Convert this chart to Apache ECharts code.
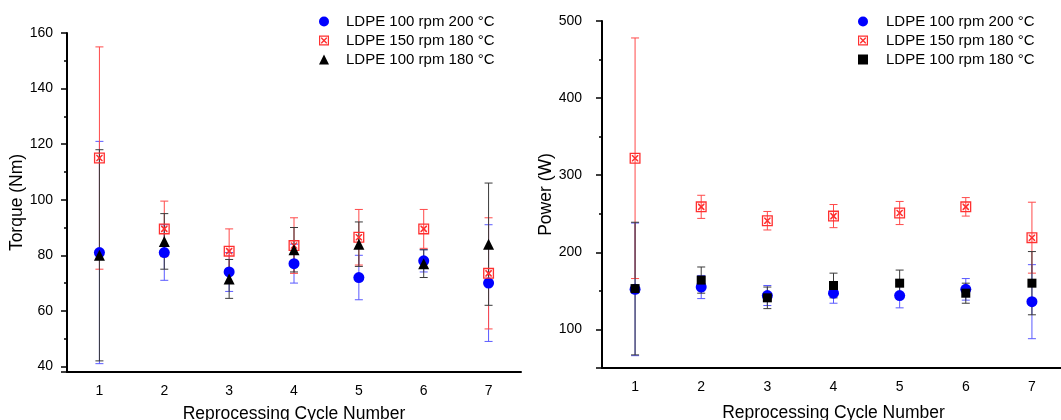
<!DOCTYPE html>
<html>
<head>
<meta charset="utf-8">
<script src="https://cdn.jsdelivr.net/npm/echarts@6/dist/echarts.min.js"></script>
<style>
  body { margin: 0; background: #fff; }
  #chart { width: 1061px; height: 420px; }
</style>
</head>
<body>
<div id="chart"></div>
<script>
// reprocessing cycles
const cycles = ['1', '2', '3', '4', '5', '6', '7'];
const names = ['LDPE 100 rpm 200 °C', 'LDPE 150 rpm 180 °C', 'LDPE 100 rpm 180 °C'];

// torque (Nm), mean and +/- error
const torque200 = [81, 81, 74, 77, 72, 78, 70];
const torque200Err = [40, 10, 7, 7, 8, 4, 21];
const torque150 = [115, 89.5, 81.5, 83.5, 86.5, 89.5, 73.5];
const torque150Err = [40, 10, 8, 10, 10, 7, 20];
const torque180 = [80, 85, 71.5, 82, 84, 77, 84];
const torque180Err = [38, 10, 7, 8, 8, 5, 22];

// power (W), mean and +/- error
const power200 = [152, 155, 144, 147, 144, 152, 136];
const power200Err = [86, 15, 13, 13, 16, 14, 48];
const power150 = [322, 259, 241, 247, 251, 259, 219];
const power150Err = [156, 15, 12, 15, 15, 12, 46];
const power180 = [153, 164, 141, 157, 160, 147, 160];
const power180Err = [86, 17, 14, 16, 17, 13, 41];

// hollow square with a cross
const crossBox = 'path://M0 0H10V10H0Z M1.2 1.2V8.8H8.8V1.2Z M2 2L3 2L8 7L8 8L7 8L2 3Z M8 2L8 3L3 8L2 8L2 7L7 2Z';

function errRows(vals, errs) {
  return vals.map((v, i) => [i, v - errs[i], v + errs[i]]);
}

function errSeries(vals, errs, color, idx) {
  return {
    type: 'custom',
    xAxisIndex: idx,
    yAxisIndex: idx,
    silent: true,
    data: errRows(vals, errs),
    encode: { x: 0, y: [1, 2] },
    renderItem: function (params, api) {
      const lo = api.coord([api.value(0), api.value(1)]);
      const hi = api.coord([api.value(0), api.value(2)]);
      const w = 4;
      const st = { stroke: color, lineWidth: 1 };
      return {
        type: 'group',
        children: [
          { type: 'line', shape: { x1: lo[0], y1: lo[1], x2: hi[0], y2: hi[1] }, style: st },
          { type: 'line', shape: { x1: lo[0] - w, y1: lo[1], x2: lo[0] + w, y2: lo[1] }, style: st },
          { type: 'line', shape: { x1: hi[0] - w, y1: hi[1], x2: hi[0] + w, y2: hi[1] }, style: st }
        ]
      };
    }
  };
}

function dots(name, vals, symbol, size, color, idx) {
  return {
    name: name,
    type: 'scatter',
    xAxisIndex: idx,
    yAxisIndex: idx,
    symbol: symbol,
    symbolSize: size,
    itemStyle: { color: color, opacity: 1 },
    data: vals.map((v, i) => [i, v])
  };
}

function xAx(idx, gap) {
  return {
    type: 'category',
    gridIndex: idx,
    data: cycles,
    boundaryGap: true,
    name: 'Reprocessing Cycle Number',
    nameLocation: 'middle',
    nameGap: gap,
    nameTextStyle: { fontSize: 17.5, color: '#000' },
    axisLine: { onZero: false, lineStyle: { color: '#000', width: 2 } },
    axisTick: { alignWithLabel: true, length: 5, lineStyle: { color: '#000', width: 1.5 } },
    axisLabel: { fontSize: 14, color: '#000', margin: 12 },
    splitLine: { show: false }
  };
}

function yAx(idx, name, min, max, split, margin, gap) {
  return {
    type: 'value',
    gridIndex: idx,
    min: min,
    max: max,
    splitNumber: split,
    name: name,
    nameLocation: 'middle',
    nameGap: gap,
    nameTextStyle: { fontSize: 17.5, color: '#000' },
    axisLine: { show: true, lineStyle: { color: '#000', width: 2 } },
    axisTick: { show: true, length: 6, lineStyle: { color: '#000', width: 1.5 } },
    minorTick: { show: true, splitNumber: 2, length: 3, lineStyle: { color: '#000', width: 1.5 } },
    axisLabel: { fontSize: 14, color: '#000', margin: margin, showMinLabel: false },
    splitLine: { show: false }
  };
}

function legendFor(left, pad, icons) {
  return {
    left: left,
    top: 9,
    orient: 'vertical',
    itemWidth: 10,
    itemHeight: 10,
    itemGap: 4,
    selectedMode: false,
    textStyle: { fontSize: 15, color: '#000', padding: [0, 0, 0, pad] },
    data: names.map((n, i) => ({ name: n, icon: icons[i] }))
  };
}

const myChart = echarts.init(document.getElementById('chart'), null, { renderer: 'canvas' });

const option = {
  animation: false,
  backgroundColor: '#fff',
  textStyle: { fontFamily: 'Liberation Sans, Arial, sans-serif' },
  grid: [
    { left: 67, top: 33, width: 454, height: 339, outerBoundsMode: 'none' },
    { left: 602, top: 21, width: 463, height: 347, outerBoundsMode: 'none' }
  ],
  legend: [
    legendFor(314, 12, ['circle', crossBox, 'triangle']),
    legendFor(853, 13, ['circle', crossBox, 'rect'])
  ],
  xAxis: [xAx(0, 33), xAx(1, 36)],
  yAxis: [
    yAx(0, 'Torque (Nm)', 38, 160, 6, 14, 32),
    yAx(1, 'Power (W)', 50, 500, 5, 20, 29)
  ],
  series: [
    errSeries(torque200, torque200Err, '#5a5aff', 0),
    dots(names[0], torque200, 'circle', 11, '#0000ff', 0),
    errSeries(torque150, torque150Err, '#ff4a4a', 0),
    dots(names[1], torque150, crossBox, 11, '#ff3030', 0),
    errSeries(torque180, torque180Err, '#3a3a3a', 0),
    dots(names[2], torque180, 'triangle', 11, '#000', 0),

    errSeries(power200, power200Err, '#5a5aff', 1),
    dots(names[0], power200, 'circle', 11, '#0000ff', 1),
    errSeries(power150, power150Err, '#ff4a4a', 1),
    dots(names[1], power150, crossBox, 11, '#ff3030', 1),
    errSeries(power180, power180Err, '#3a3a3a', 1),
    dots(names[2], power180, 'rect', 9, '#000', 1)
  ]
};

myChart.setOption(option);
</script>
</body>
</html>
